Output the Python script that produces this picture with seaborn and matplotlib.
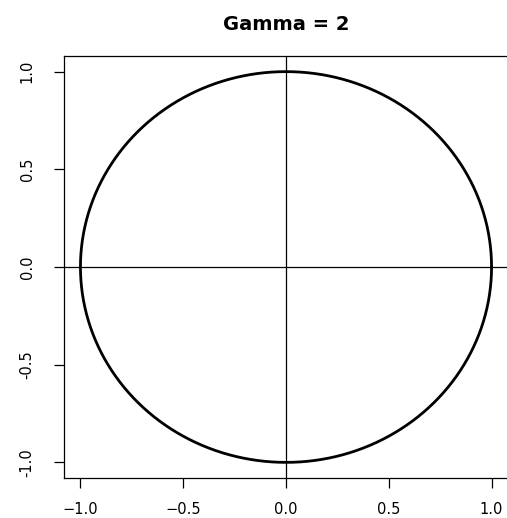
import numpy as np
import pandas as pd
import matplotlib
matplotlib.use("Agg")
import matplotlib.pyplot as plt
import seaborn as sns

gamma = 2
x_ticks = [-1.0, -0.5, 0.0, 0.5, 1.0]
x_tick_labels = ["\u22121.0", "\u22120.5", "0.0", "0.5", "1.0"]
y_ticks = [-1.0, -0.5, 0.0, 0.5, 1.0]
y_tick_labels = ["-1.0", "-0.5", "0.0", "0.5", "1.0"]

# unit "circle" of the gamma-norm: |x|^gamma + |y|^gamma = 1
t = np.linspace(0, 2 * np.pi, 721)
c, s = np.cos(t), np.sin(t)
curve = pd.DataFrame({
    "x": np.sign(c) * np.abs(c) ** (2 / gamma),
    "y": np.sign(s) * np.abs(s) ** (2 / gamma),
})

sns.set_style("white")
plt.rcParams["font.family"] = ["DejaVu Sans"]
plt.rcParams["text.color"] = "black"
plt.rcParams["xtick.color"] = "black"
plt.rcParams["ytick.color"] = "black"

W, H = 507, 518
fig = plt.figure(figsize=(W / 100, H / 100), dpi=100)
left, right, top, bottom = 64, 508, 56, 478
ax = fig.add_axes([left / W, 1 - bottom / H, (right - left) / W, (bottom - top) / H])

sns.lineplot(data=curve, x="x", y="y", sort=False, estimator=None,
             color="black", linewidth=2.0, ax=ax)
ax.axhline(0, color="black", linewidth=0.9)
ax.axvline(0, color="black", linewidth=0.9)

ax.set_xlim(-1.08, 1.08)
ax.set_ylim(-1.08, 1.08)
ax.set_xticks(x_ticks)
ax.set_xticklabels(x_tick_labels, fontsize=10.5)
ax.set_yticks(y_ticks)
ax.set_yticklabels(y_tick_labels, fontsize=10.5, rotation=90, va="center")
ax.tick_params(axis="both", direction="out", length=7.2, width=0.9,
               color="black", labelcolor="black", bottom=True, left=True)
ax.tick_params(axis="x", pad=10)
ax.tick_params(axis="y", pad=14)
ax.set_xlabel("")
ax.set_ylabel("")
for side, sp in ax.spines.items():
    sp.set_color("black")
    sp.set_linewidth(0.9)
ax.spines["right"].set_visible(False)

ax.set_title("Gamma = 2", fontsize=14, fontweight="bold", pad=19, color="black")

fig.savefig("out.png", dpi=100)
